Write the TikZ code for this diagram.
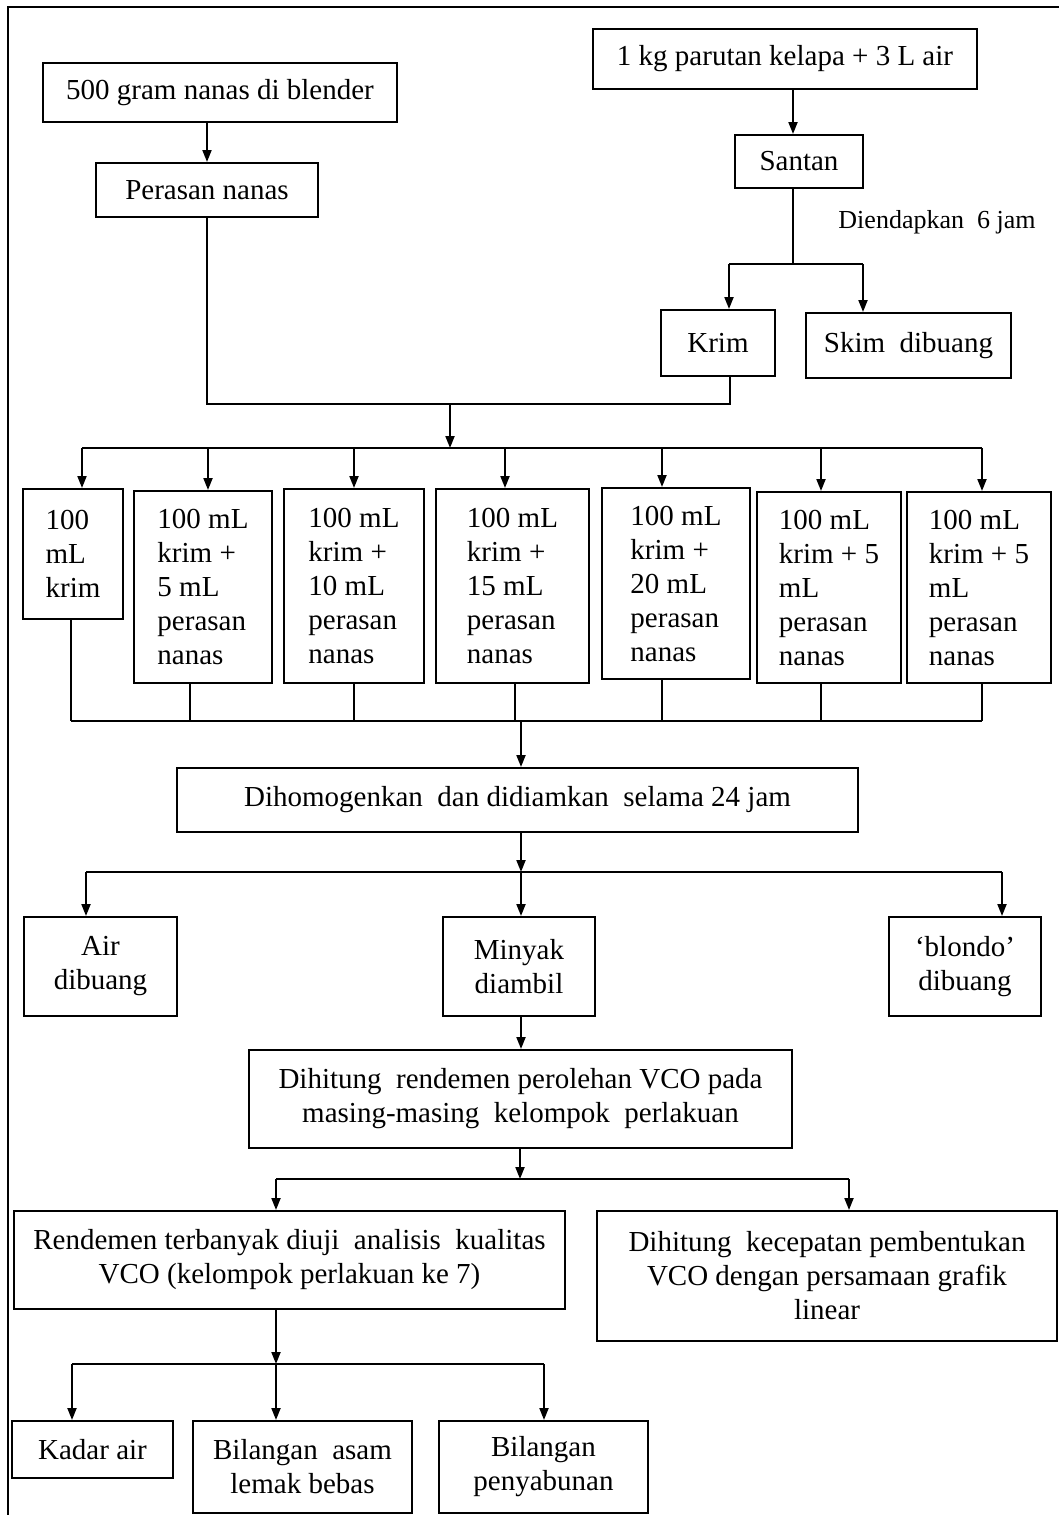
\documentclass[tikz,border=0pt]{standalone}
\usepackage{fontspec}
\setmainfont{Liberation Serif}
\usetikzlibrary{arrows.meta}
\begin{document}
\begin{tikzpicture}[x=0.5pt,y=-0.5pt,
  box/.style={draw,line width=1pt,inner sep=0pt,align=center,font=\fontsize{14.5pt}{17pt}\selectfont},
  lbox/.style={box,align=left},
  ln/.style={line width=1pt},
  arr/.style={line width=1pt,-{Triangle[length=6pt,width=4.5pt]}}]
\useasboundingbox (0,0) rectangle (1059,1515);
% frame
\coordinate (fbl) at (8,1515);
\coordinate (ftl) at (8,7);
\coordinate (ftr) at (1059,7);
\draw[ln] (fbl) -- (ftl) -- (ftr);

% top
\node[box,minimum width=177pt,minimum height=29.5pt] (A) at (220,92.5) {500 gram nanas di blender};
\node[box,minimum width=111pt,minimum height=27pt] (B) at (207,190) {Perasan nanas};
\node[box,minimum width=192pt,minimum height=30pt] (C) at (785,59) {1 kg parutan kelapa + 3 L air};
\node[box,minimum width=64pt,minimum height=26.5pt] (D) at (799,161.5) {Santan};
\node[box,minimum width=57pt,minimum height=33pt] (E) at (718,343) {Krim};
\node[box,minimum width=102.5pt,minimum height=32.5pt] (F) at (908.5,345.5) {Skim\ \ dibuang};
\node[font=\fontsize{13pt}{15pt}\selectfont,inner sep=0pt] (lab) at (937,222) {Diendapkan\ \ 6 jam};

\draw[arr] (A.south -| B) -- (B.north);
\draw[arr] ([xshift=4pt]C.south) -- ([xshift=4pt]C.south |- D.north);
\coordinate (sj) at (793,264);
\draw[ln] ([xshift=-3pt]D.south) -- (sj);
\coordinate (sjL) at (729,264);
\coordinate (sjR) at (863,264);
\draw[ln] (sjL) -- (sjR);
\draw[arr] (sjL) -- (sjL |- E.north);
\draw[arr] (sjR) -- (sjR |- F.north);

\coordinate (m1) at (450,404);
\coordinate (kr) at (730,404);
\draw[ln] (B.south) |- (m1) -- (kr) -- (kr |- E.south);

% bus 1
\coordinate (bus1) at (450,448);
\draw[arr] (m1) -- (bus1);
\coordinate (t1) at (82,448);
\coordinate (t2) at (208,448);
\coordinate (t3) at (354,448);
\coordinate (t4) at (505,448);
\coordinate (t5) at (662,448);
\coordinate (t6) at (821,448);
\coordinate (t7) at (982,448);
\draw[ln] (t1) -- (t7);

\node[lbox,minimum width=50pt,minimum height=65pt] (b1) at (73,554) {100\\mL\\krim};
\node[lbox,minimum width=69pt,minimum height=96pt] (b2) at (203,587) {100 mL\\krim +\\5 mL\\perasan\\nanas};
\node[lbox,minimum width=70pt,minimum height=97pt] (b3) at (354,586) {100 mL\\krim +\\10 mL\\perasan\\nanas};
\node[lbox,minimum width=76.5pt,minimum height=97pt] (b4) at (512.5,586) {100 mL\\krim +\\15 mL\\perasan\\nanas};
\node[lbox,minimum width=74pt,minimum height=95.5pt] (b5) at (676,583.5) {100 mL\\krim +\\20 mL\\perasan\\nanas};
\node[lbox,minimum width=72pt,minimum height=95.5pt] (b6) at (829,587.5) {100 mL\\krim + 5\\mL\\perasan\\nanas};
\node[lbox,minimum width=72pt,minimum height=95.5pt] (b7) at (979,587.5) {100 mL\\krim + 5\\mL\\perasan\\nanas};

\draw[arr] (t1) -- (t1 |- b1.north);
\draw[arr] (t2) -- (t2 |- b2.north);
\draw[arr] (t3) -- (t3 |- b3.north);
\draw[arr] (t4) -- (t4 |- b4.north);
\draw[arr] (t5) -- (t5 |- b5.north);
\draw[arr] (t6) -- (t6 |- b6.north);
\draw[arr] (t7) -- (t7 |- b7.north);

% bus 2
\coordinate (u1) at (71,721);
\coordinate (u2) at (190,721);
\coordinate (u3) at (354,721);
\coordinate (u4) at (515,721);
\coordinate (u5) at (662,721);
\coordinate (u6) at (821,721);
\coordinate (u7) at (982,721);
\coordinate (uG) at (521,721);
\draw[ln] (b1.south -| u1) -- (u1);
\draw[ln] (b2.south -| u2) -- (u2);
\draw[ln] (b3.south -| u3) -- (u3);
\draw[ln] (b4.south -| u4) -- (u4);
\draw[ln] (b5.south -| u5) -- (u5);
\draw[ln] (b6.south -| u6) -- (u6);
\draw[ln] (b7.south -| u7) -- (u7);
\draw[ln] (u1) -- (u7);

\node[box,minimum width=340.5pt,minimum height=32pt] (G) at (517.5,800) {Dihomogenkan\ \ dan didiamkan\ \ selama 24 jam};
\draw[arr] (uG) -- (uG |- G.north);

% bus 3
\coordinate (v0) at (521,872);
\coordinate (v1) at (86,872);
\coordinate (v3) at (1002,872);
\draw[arr] (G.south -| v0) -- (v0);
\draw[ln] (v1) -- (v3);
\node[box,minimum width=76.5pt,minimum height=49.5pt] (K) at (100.5,966.5) {Air\\dibuang};
\node[box,minimum width=76pt,minimum height=49.5pt] (L) at (519,966.5) {Minyak\\diambil};
\node[box,minimum width=76pt,minimum height=49.5pt] (M) at (965,966.5) {‘blondo’\\dibuang};
\draw[arr] (v1) -- (v1 |- K.north);
\draw[arr] (v0) -- (v0 |- L.north);
\draw[arr] (v3) -- (v3 |- M.north);

\node[box,minimum width=271.5pt,minimum height=49pt] (H) at (520.5,1099) {Dihitung\ \ rendemen perolehan VCO pada\\masing-masing\ \ kelompok\ \ perlakuan};
\draw[arr] (L.south -| v0) -- (v0 |- H.north);

% bus 4
\coordinate (w0) at (520,1179);
\coordinate (w1) at (276,1179);
\coordinate (w2) at (849,1179);
\draw[arr] (H.south -| w0) -- (w0);
\draw[ln] (w1) -- (w2);
\node[box,minimum width=275.5pt,minimum height=49pt] (I) at (289.5,1260) {Rendemen terbanyak diuji\ \ analisis\ \ kualitas\\VCO (kelompok perlakuan ke 7)};
\node[box,minimum width=230pt,minimum height=65pt] (J) at (827,1276) {Dihitung\ \ kecepatan pembentukan\\VCO dengan persamaan grafik\\linear};
\draw[arr] (w1) -- (w1 |- I.north);
\draw[arr] (w2) -- (w2 |- J.north);

% bus 5
\coordinate (z0) at (276,1364);
\coordinate (z1) at (72,1364);
\coordinate (z2) at (544,1364);
\draw[arr] (I.south -| z0) -- (z0);
\draw[ln] (z1) -- (z2);
\node[box,minimum width=80.5pt,minimum height=28.5pt] (Ka) at (92.5,1449.5) {Kadar air};
\node[box,minimum width=109.5pt,minimum height=46pt] (Ba) at (302.5,1467) {Bilangan\ \ asam\\lemak bebas};
\node[box,minimum width=104.5pt,minimum height=46pt] (Bp) at (543.5,1467) {Bilangan\\penyabunan};
\draw[arr] (z1) -- (z1 |- Ka.north);
\draw[arr] (z0) -- (z0 |- Ba.north);
\draw[arr] (z2) -- (z2 |- Bp.north);
\end{tikzpicture}
\end{document}
